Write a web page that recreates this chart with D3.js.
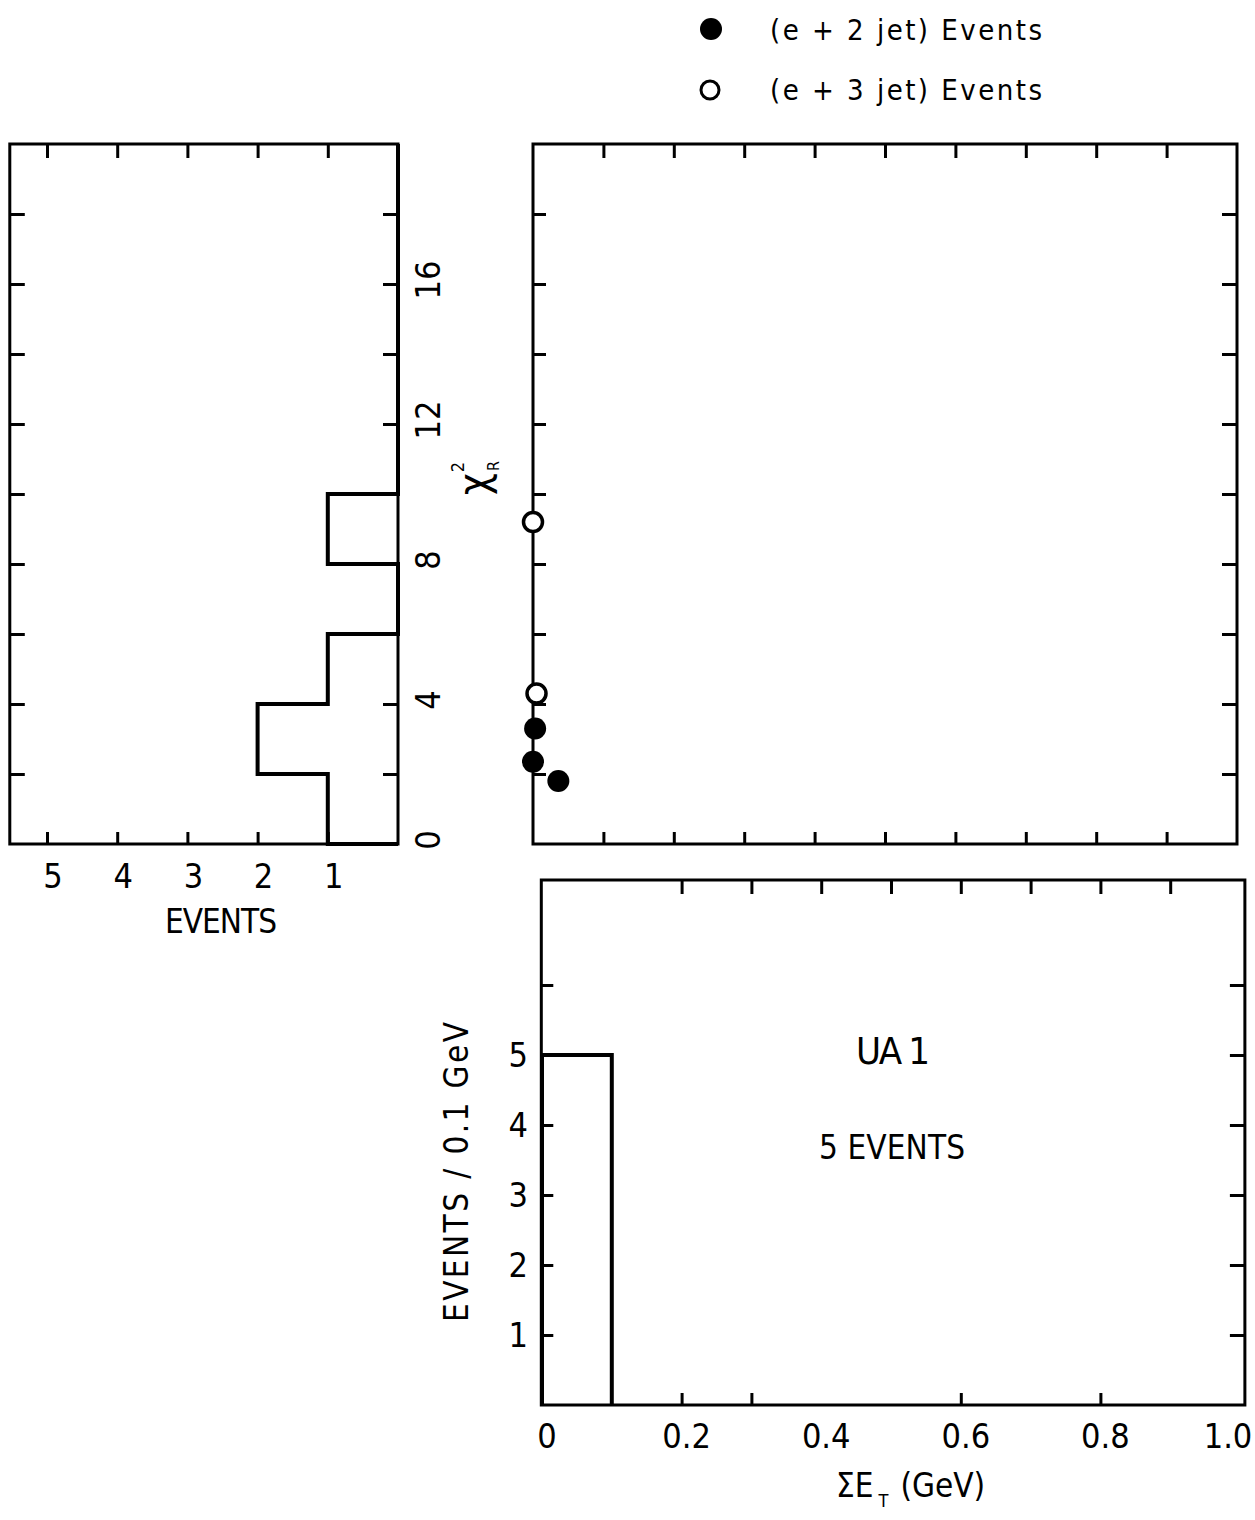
<!DOCTYPE html>
<html><head><meta charset="utf-8">
<script src="https://cdn.jsdelivr.net/npm/d3@7"></script>
<style>
body{margin:0;background:#fff}
svg text{font-family:"Liberation Sans Narrow","DejaVu Sans Condensed","Liberation Sans",sans-serif;fill:#000}
</style>
</head><body>
<svg id="c" width="1255" height="1520"></svg>
<script>
// ---------- data ----------
const chiBinEdges = [0, 2, 4, 6, 8, 10, 20];
const chiBinCounts = [1, 2, 1, 0, 1, 0];
const eventTicks = [1, 2, 3, 4, 5];
const eventLabels = [5, 4, 3, 2, 1];
const chiTicks = [2, 4, 6, 8, 10, 12, 14, 16, 18];
const chiLabels = [0, 4, 8, 12, 16];
const e2jetEt = [0.003, 0.0, 0.036];
const e2jetChi = [3.3, 2.35, 1.8];
const e3jetEt = [0.0, 0.005];
const e3jetChi = [9.2, 4.3];
const etTicksTop = [0.1, 0.2, 0.3, 0.4, 0.5, 0.6, 0.7, 0.8, 0.9];
const etBinEdges = [0, 0.1];
const etBinCounts = [5];
const etLabels = [0, 0.2, 0.4, 0.6, 0.8, 1.0];
const etTicksBottomPanelTop = [0.2, 0.3, 0.4, 0.5, 0.6, 0.7, 0.8, 0.9];
const etTicksBottomPanelBottom = [0.2, 0.3, 0.6, 0.8];
const evTicks = [1, 2, 3, 4, 5, 6];
const evLabels = [1, 2, 3, 4, 5];
const legendLabels = ["(e + 2 jet) Events", "(e + 3 jet) Events"];

// ---------- scales ----------
const svg = d3.select("#c");
const yChi = d3.scaleLinear([0, 20], [844, 144]);
const xCnt = d3.scaleLinear([0, 5], [398, 47]);
const xEtT = d3.scaleLinear([0, 1], [533, 1237]);
const xEtB = d3.scaleLinear([0, 1], [542, 1240]);
const yEv = d3.scaleLinear([0, 7.5], [1405, 880]);

const LW = 3;
function frame(x0, x1, y0, y1) {
  svg.append("rect").attr("x", x0).attr("y", y0)
    .attr("width", x1 - x0).attr("height", y1 - y0)
    .attr("fill", "none").attr("stroke", "#000").attr("stroke-width", LW);
}
function ticks(axis, tx, ty) {
  const g = svg.append("g").attr("transform", `translate(${tx},${ty})`).call(axis);
  g.select(".domain").remove();
  g.selectAll("text").remove();
  g.selectAll("line").attr("stroke", "#000").attr("stroke-width", LW);
  return g;
}

// ---------- left panel: chi2 histogram (horizontal) ----------
frame(xCnt(5.53), xCnt(0), yChi(20), yChi(0));
ticks(d3.axisLeft(yChi).tickValues(chiTicks).tickSizeInner(-15).tickSizeOuter(0), xCnt(5.53), 0);
ticks(d3.axisRight(yChi).tickValues(chiTicks).tickSizeInner(-15).tickSizeOuter(0), xCnt(0), 0);
ticks(d3.axisTop(xCnt).tickValues(eventTicks).tickSizeInner(-14).tickSizeOuter(0), 0, yChi(20));
ticks(d3.axisBottom(xCnt).tickValues(eventTicks).tickSizeInner(-12).tickSizeOuter(0), 0, yChi(0));

const histPts = [[0, chiBinEdges[0]]];
chiBinCounts.forEach((c, i) => { histPts.push([c, chiBinEdges[i]]); histPts.push([c, chiBinEdges[i + 1]]); });
svg.append("path")
  .attr("d", d3.line().x(d => xCnt(d[0])).y(d => yChi(d[1]))(histPts))
  .attr("fill", "none").attr("stroke", "#000").attr("stroke-width", 4);

svg.append("g").selectAll("text").data(eventLabels).join("text")
  .attr("x", d => xCnt(d) + 6).attr("y", 888)
  .attr("text-anchor", "middle").attr("font-size", 34).text(d => d);
svg.append("text").attr("x", 221).attr("y", 933).attr("text-anchor", "middle")
  .attr("font-size", 33).attr("textLength", 112).attr("lengthAdjust", "spacing").text("EVENTS");

svg.append("g").selectAll("g").data(chiLabels).join("g")
  .attr("transform", d => `translate(440,${yChi(d) - 4}) rotate(-90)`)
  .append("text").attr("text-anchor", "middle").attr("font-size", 34).text(d => d);

// chi2_R axis label (rotated)
const chiLab = svg.append("g").attr("transform", "translate(488,484) rotate(-90)");
chiLab.append("text").attr("x", 0).attr("y", 0).attr("text-anchor", "middle").attr("font-size", 42).text("χ");
chiLab.append("text").attr("x", 17).attr("y", -24).attr("text-anchor", "middle").attr("font-size", 18).text("2");
chiLab.append("text").attr("x", 18).attr("y", 11).attr("text-anchor", "middle").attr("font-size", 16).text("R");

// ---------- top right: scatter ----------
frame(xEtT(0), xEtT(1), yChi(20), yChi(0));
ticks(d3.axisLeft(yChi).tickValues(chiTicks).tickSizeInner(-13).tickSizeOuter(0), xEtT(0), 0);
ticks(d3.axisRight(yChi).tickValues(chiTicks).tickSizeInner(-15).tickSizeOuter(0), xEtT(1), 0);
ticks(d3.axisTop(xEtT).tickValues(etTicksTop).tickSizeInner(-14).tickSizeOuter(0), 0, yChi(20));
ticks(d3.axisBottom(xEtT).tickValues(etTicksTop).tickSizeInner(-12).tickSizeOuter(0), 0, yChi(0));

svg.append("g").selectAll("circle").data(d3.range(e2jetEt.length)).join("circle")
  .attr("cx", i => xEtT(e2jetEt[i])).attr("cy", i => yChi(e2jetChi[i]))
  .attr("r", 11).attr("fill", "#000");
svg.append("g").selectAll("circle").data(d3.range(e3jetEt.length)).join("circle")
  .attr("cx", i => xEtT(e3jetEt[i])).attr("cy", i => yChi(e3jetChi[i]))
  .attr("r", 9.5).attr("fill", "#fff").attr("stroke", "#000").attr("stroke-width", 3.5);

// legend
const leg = svg.append("g");
leg.append("circle").attr("cx", 711).attr("cy", 29).attr("r", 11).attr("fill", "#000");
leg.append("circle").attr("cx", 710).attr("cy", 90).attr("r", 9).attr("fill", "#fff").attr("stroke", "#000").attr("stroke-width", 3);
leg.selectAll("text").data(legendLabels).join("text")
  .attr("x", 770).attr("y", (d, i) => 40 + i * 60)
  .attr("font-size", 29).attr("textLength", 272).attr("lengthAdjust", "spacing").text(d => d);

// ---------- bottom right: Et histogram ----------
frame(xEtB(-0.001), xEtB(1.007), yEv(7.5), yEv(0));
ticks(d3.axisLeft(yEv).tickValues(evTicks).tickSizeInner(-12).tickSizeOuter(0), xEtB(-0.001), 0);
ticks(d3.axisRight(yEv).tickValues(evTicks).tickSizeInner(-15).tickSizeOuter(0), xEtB(1.007), 0);
ticks(d3.axisTop(xEtB).tickValues(etTicksBottomPanelTop).tickSizeInner(-14).tickSizeOuter(0), 0, yEv(7.5));
ticks(d3.axisBottom(xEtB).tickValues(etTicksBottomPanelBottom).tickSizeInner(-12).tickSizeOuter(0), 0, yEv(0));

const etPts = [[etBinEdges[0], 0]];
etBinCounts.forEach((c, i) => { etPts.push([etBinEdges[i], c]); etPts.push([etBinEdges[i + 1], c]); });
etPts.push([etBinEdges[etBinEdges.length - 1], 0]);
svg.append("path")
  .attr("d", d3.line().x(d => xEtB(d[0])).y(d => yEv(d[1]))(etPts))
  .attr("fill", "none").attr("stroke", "#000").attr("stroke-width", 4);

svg.append("g").selectAll("text").data(evLabels).join("text")
  .attr("x", 528).attr("y", d => yEv(d) + 12)
  .attr("text-anchor", "end").attr("font-size", 34).text(d => d);
svg.append("g").selectAll("text").data(etLabels).join("text")
  .attr("x", d => Math.min(xEtB(d) + 5, 1228)).attr("y", 1448)
  .attr("text-anchor", "middle").attr("font-size", 34)
  .text(d => d === 0 ? "0" : d3.format(".1f")(d));

svg.append("text").attr("transform", "translate(468,1172) rotate(-90)")
  .attr("text-anchor", "middle").attr("font-size", 33)
  .attr("textLength", 300).attr("lengthAdjust", "spacing").text("EVENTS / 0.1 GeV");

const xl = svg.append("text").attr("x", 836).attr("y", 1497).attr("font-size", 33);
xl.append("tspan").text("ΣE");
xl.append("tspan").attr("font-size", 18).attr("dx", 5).attr("dy", 10).text("T");
xl.append("tspan").attr("dy", -10).attr("dx", 12).text("(GeV)");

svg.append("text").attr("x", 893).attr("y", 1064).attr("text-anchor", "middle")
  .attr("font-size", 38).attr("textLength", 74).attr("lengthAdjust", "spacing").text("UA 1");
svg.append("text").attr("x", 892).attr("y", 1159).attr("text-anchor", "middle")
  .attr("font-size", 33).attr("textLength", 146).attr("lengthAdjust", "spacing").text("5 EVENTS");
</script>
</body></html>
